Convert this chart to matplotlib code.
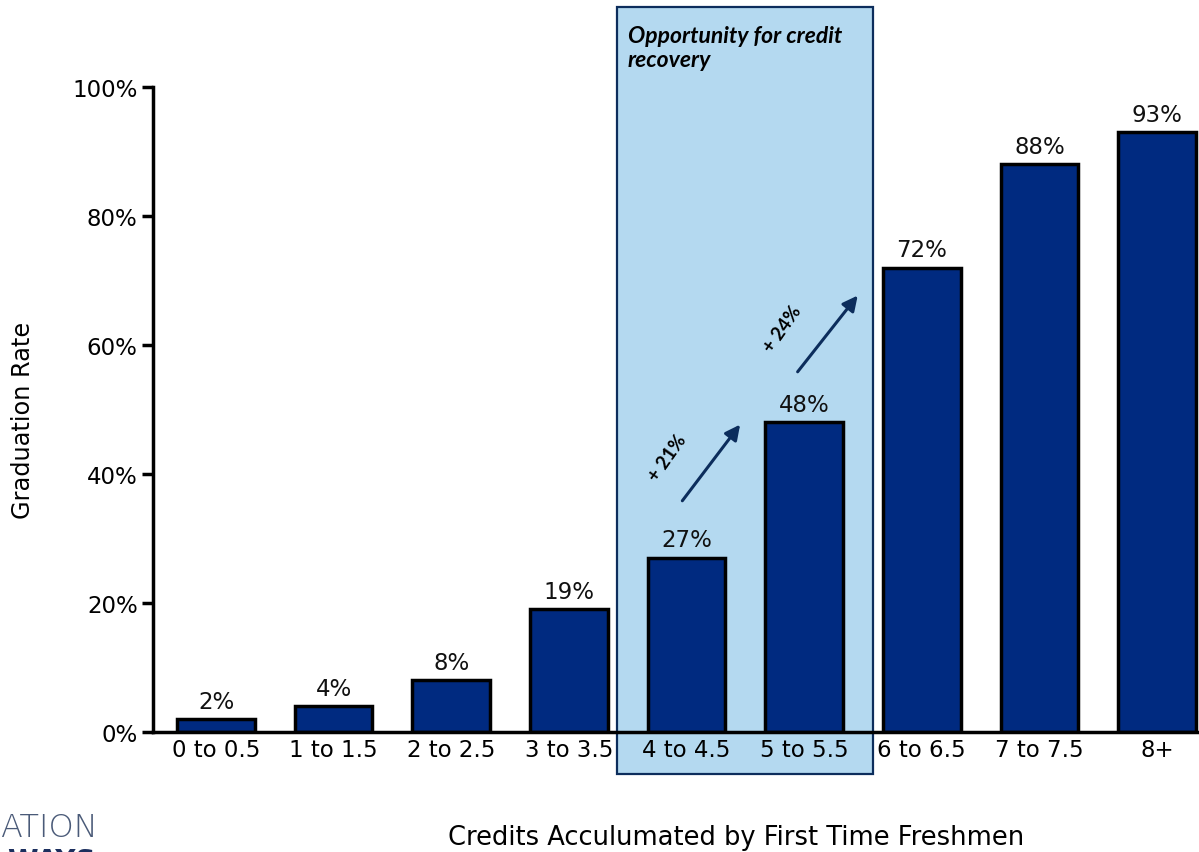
import matplotlib.pyplot as plt
from matplotlib.patches import Rectangle

categories = ['0 to 0.5', '1 to 1.5', '2 to 2.5', '3 to 3.5', '4 to 4.5',
              '5 to 5.5', '6 to 6.5', '7 to 7.5', '8+']
grad_rate = [2, 4, 8, 19, 27, 48, 72, 88, 93]
y_ticks = [0, 20, 40, 60, 80, 100]
jump_labels = ['+ 21%', '+ 24%']

plt.rcParams['font.family'] = ['DejaVu Sans']
fs = 16.5

fig = plt.figure(figsize=(11.99, 8.53), dpi=100)
ax = fig.add_axes([0.1276, 0.1407, 0.8724, 0.7562])

x = list(range(len(categories)))

# highlighted region behind bars 4 to 4.5 and 5 to 5.5
box = Rectangle((3.41, -6.5), 2.177, 118.9, facecolor='#b4d9f0',
                edgecolor='#0c2d5c', linewidth=1.6, clip_on=False, zorder=0)
ax.add_patch(box)
ax.text(3.50, 109.6, 'Opportunity for credit\nrecovery', fontsize=16.5,
        fontweight='bold', fontstyle='italic', family='Lato',
        va='top', ha='left', linespacing=1.15, zorder=3)

ax.bar(x, grad_rate, width=0.66, color='#002a80', edgecolor='black',
       linewidth=2.5, zorder=2)
for xi, v in zip(x, grad_rate):
    ax.text(xi, v + 1.0, f'{v}%', ha='center', va='bottom', fontsize=fs,
            color='#111111', zorder=3)

# arrows showing jumps between consecutive groups
arrow_kw = dict(arrowstyle='-|>,head_length=0.9,head_width=0.45',
                color='#0c2d5c', lw=2.2)
ax.annotate('', xy=(4.47, 48), xytext=(3.95, 35.5), arrowprops=arrow_kw, zorder=3)
ax.annotate('', xy=(5.47, 68), xytext=(4.93, 55.5), arrowprops=arrow_kw, zorder=3)
ax.text(3.84, 42.5, jump_labels[0], rotation=55, fontsize=13.5, fontweight='bold',
        family='Lato', ha='center', va='center', zorder=3)
ax.text(4.82, 62.5, jump_labels[1], rotation=55, fontsize=13.5, fontweight='bold',
        family='Lato', ha='center', va='center', zorder=3)

ax.set_xlim(-0.536, 8.357)
ax.set_ylim(0, 100)
ax.set_yticks(y_ticks)
ax.set_yticklabels([f'{t}%' for t in y_ticks], fontsize=fs)
ax.set_xticks(x)
ax.set_xticklabels(categories, fontsize=fs)
ax.tick_params(axis='x', length=0, pad=4)
ax.tick_params(axis='y', length=8, width=2.5, direction='out', pad=3)

ax.spines['top'].set_visible(False)
ax.spines['right'].set_visible(False)
ax.spines['left'].set_linewidth(2.5)
ax.spines['bottom'].set_linewidth(2.5)
ax.spines['left'].set_zorder(4)
ax.spines['bottom'].set_zorder(4)
ax.patch.set_alpha(0)

ax.set_ylabel('Graduation Rate', fontsize=17.3)
ax.yaxis.set_label_coords(-0.113, 0.485)
fig.text(0.614, 0.002, 'Credits Acculumated by First Time Freshmen',
         fontsize=18.5, ha='center', va='bottom')

# partial logo text at bottom left
fig.text(0.0, 0.012, 'ATION', fontsize=23, color='#4a5a78', ha='left',
         va='bottom', fontweight='light')
fig.text(0.006, 0.006, 'WAYS', fontsize=20, color='#1c2f5e', ha='left',
         va='top', fontweight='bold')

fig.savefig('out.png', dpi=100)
